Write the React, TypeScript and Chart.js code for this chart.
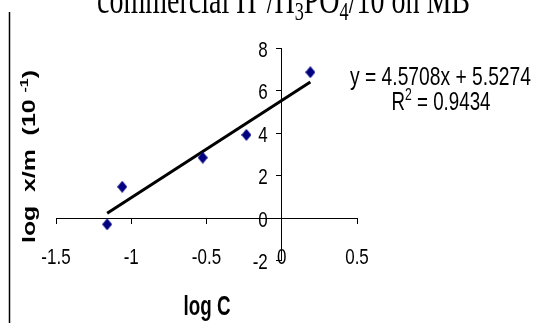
import React, { useEffect, useRef } from "react";
import { Chart, registerables } from "chart.js";

Chart.register(...registerables);

// ---- data ----
const logC = [-1.16, -1.06, -0.525, -0.235, 0.19];
const logXM = [-0.3, 1.47, 2.84, 3.91, 6.86];
const slope = 4.5708;
const intercept = 5.5274;
const rSquared = "0.9434";
const xTickValues = [-1.5, -1, -0.5, 0, 0.5];
const xTickLabels = ["-1.5", "-1", "-0.5", "0", "0.5"];
const yTickValues = [-2, 0, 2, 4, 6, 8];
const yTickLabels = ["-2", "0", "2", "4", "6", "8"];
const xTitle = "log C";

type Seg = { t: string; sup?: boolean; sub?: boolean };

function drawSegs(
  ctx: CanvasRenderingContext2D,
  segs: Seg[],
  family: string,
  weight: string,
  size: number,
  x: number,
  y: number,
  targetWidth: number,
  sy: number,
  align: "center" | "right" = "center",
  rotate = false
) {
  const small = size * 0.65;
  const widths = segs.map((s) => {
    ctx.font = `${weight} ${s.sup || s.sub ? small : size}px ${family}`;
    return ctx.measureText(s.t).width;
  });
  const total = widths.reduce((a, b) => a + b, 0);
  const sx = targetWidth > 0 ? targetWidth / total : 1;
  ctx.save();
  ctx.translate(x, y);
  if (rotate) ctx.rotate(-Math.PI / 2);
  ctx.scale(sx, sy);
  ctx.textAlign = "left";
  ctx.textBaseline = "alphabetic";
  ctx.fillStyle = "#000";
  let cx = align === "center" ? -total / 2 : -total;
  segs.forEach((s, i) => {
    ctx.font = `${weight} ${s.sup || s.sub ? small : size}px ${family}`;
    const dy = s.sup ? -size * 0.38 : s.sub ? size * 0.18 : 0;
    ctx.fillText(s.t, cx, dy);
    cx += widths[i];
  });
  ctx.restore();
}

const SANS = "'Liberation Sans', Arial, sans-serif";
const SERIF = "'Liberation Serif', 'Times New Roman', serif";

const textPlugin = {
  id: "customText",
  afterDraw(chart: any) {
    const ctx: CanvasRenderingContext2D = chart.ctx;
    const xs = chart.scales.x;
    const ys = chart.scales.y;
    const yBottom = ys.getPixelForValue(-2);
    const axisX = xs.getPixelForValue(0);

    // left border line
    ctx.save();
    ctx.strokeStyle = "#000";
    ctx.lineWidth = 1.5;
    ctx.beginPath();
    ctx.moveTo(9.5, 12);
    ctx.lineTo(9.5, 323);
    ctx.stroke();
    ctx.restore();

    // x tick labels
    xTickValues.forEach((v, i) => {
      const px = xs.getPixelForValue(v);
      drawSegs(ctx, [{ t: xTickLabels[i] }], SANS, "normal", 17, px, yBottom + 3.5, 0, 1.35, "center");
    });
    // y tick labels
    yTickValues.forEach((v, i) => {
      const py = ys.getPixelForValue(v);
      drawSegs(ctx, [{ t: yTickLabels[i] }], SANS, "normal", 17, axisX - 14, py + 8.5, 0, 1.35, "right");
    });

    // title (cut off at top)
    drawSegs(
      ctx,
      [
        { t: "commercial H" },
        { t: "+", sup: true },
        { t: "/H" },
        { t: "3", sub: true },
        { t: "PO" },
        { t: "4", sub: true },
        { t: "/10 on MB" },
      ],
      SERIF,
      "normal",
      26,
      283.5,
      13,
      373,
      1.5
    );

    // axis titles
    drawSegs(ctx, [{ t: xTitle }], SANS, "bold", 19, 207, 315, 47, 1.45);
    drawSegs(
      ctx,
      [{ t: "log  x/m  (10 " }, { t: "-1", sup: true }, { t: ")" }],
      SANS,
      "bold",
      18,
      35,
      156.5,
      173,
      1,
      "center",
      true
    );

    // equation
    drawSegs(ctx, [{ t: `y = ${slope}x + ${intercept}` }], SANS, "normal", 23, 440.5, 85, 181, 1.1);
    drawSegs(
      ctx,
      [{ t: "R" }, { t: "2", sup: true }, { t: ` = ${rSquared}` }],
      SANS,
      "normal",
      23,
      441,
      110,
      99,
      1.1
    );
  },
};

export default function App() {
  const ref = useRef<HTMLCanvasElement | null>(null);
  useEffect(() => {
    if (!ref.current) return;
    const marker = document.createElement("canvas");
    marker.width = 10;
    marker.height = 12;
    const mc = marker.getContext("2d")!;
    mc.fillStyle = "#000080";
    mc.beginPath();
    mc.moveTo(5, 0);
    mc.lineTo(10, 6);
    mc.lineTo(5, 12);
    mc.lineTo(0, 6);
    mc.closePath();
    mc.fill();

    const xMin = Math.min(...logC);
    const xMax = Math.max(...logC);
    const trend = [
      { x: xMin, y: slope * xMin + intercept },
      { x: xMax, y: slope * xMax + intercept },
    ];

    const chart = new Chart(ref.current, {
      type: "scatter",
      data: {
        datasets: [
          {
            type: "line",
            data: trend,
            borderColor: "#000",
            borderWidth: 3,
            pointRadius: 0,
            fill: false,
            order: 2,
          } as any,
          {
            type: "scatter",
            data: logC.map((x, i) => ({ x, y: logXM[i] })),
            pointStyle: marker as any,
            backgroundColor: "#000080",
            borderColor: "#000080",
            order: 1,
          },
        ],
      },
      options: {
        responsive: false,
        animation: false,
        devicePixelRatio: 1,
        layout: { padding: { left: 56, right: 176, top: 48, bottom: 62.5 } },
        plugins: { legend: { display: false }, tooltip: { enabled: false } },
        scales: {
          x: {
            type: "linear",
            min: -1.5,
            max: 0.5,
            position: { y: 0 } as any,
            ticks: { display: false, stepSize: 0.5 },
            grid: { drawOnChartArea: false, drawTicks: true, tickLength: 5, color: "#000" },
            border: { color: "#000", width: 1 },
          },
          y: {
            type: "linear",
            min: -2,
            max: 8,
            position: { x: 0 } as any,
            ticks: { display: false, stepSize: 2 },
            grid: { drawOnChartArea: false, drawTicks: true, tickLength: 5, color: "#000" },
            border: { color: "#000", width: 1 },
          },
        },
      },
      plugins: [textPlugin],
    });
    return () => chart.destroy();
  }, []);

  return (
    <div style={{ position: "fixed", left: 0, top: 0, width: 533, height: 323, background: "#fff" }}>
      <canvas ref={ref} width={533} height={323} style={{ width: 533, height: 323 }} />
    </div>
  );
}
